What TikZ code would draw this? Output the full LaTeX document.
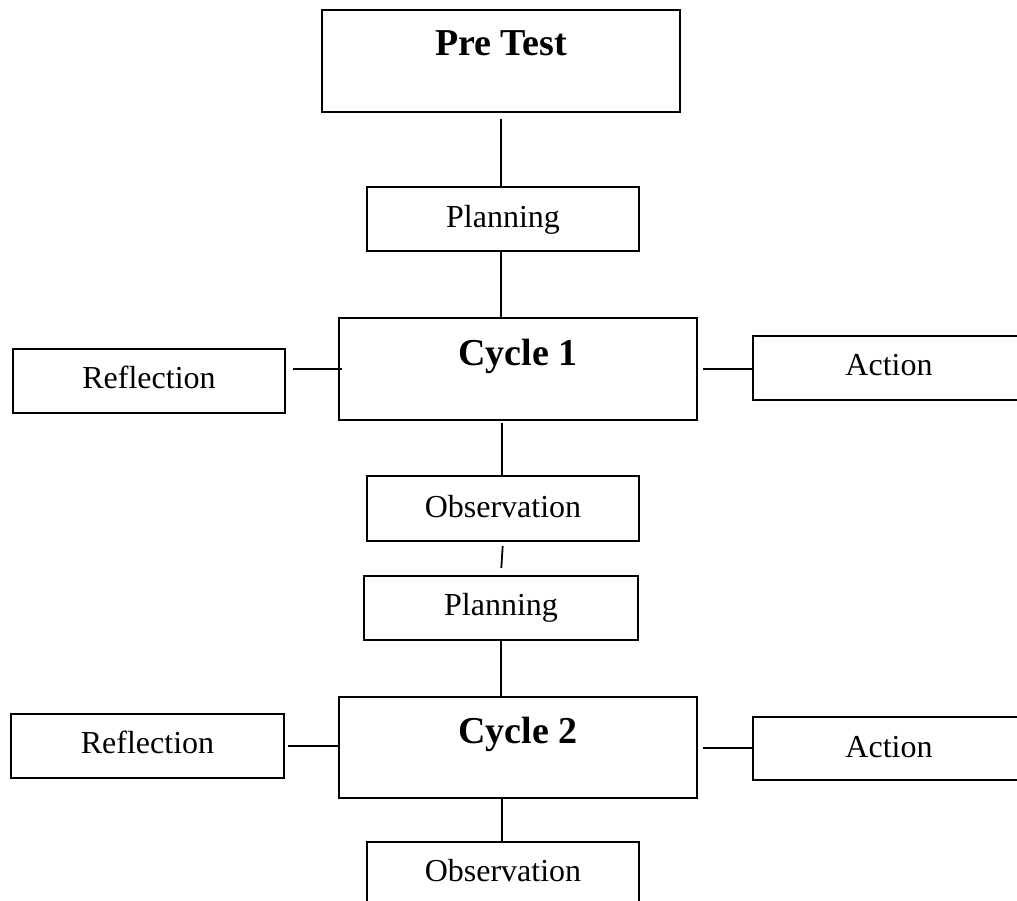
\documentclass[tikz,border=0pt]{standalone}
\usepackage{fontspec}
\setmainfont{Liberation Serif}
\begin{document}
\begin{tikzpicture}[x=1pt,y=-1pt,
  box/.style={draw=black, line width=1.8pt, rectangle, inner sep=0pt},
  lbl/.style={anchor=base, inner sep=0pt, font=\fontsize{32}{36}\selectfont},
  blbl/.style={anchor=base, inner sep=0pt, font=\fontsize{38}{40}\selectfont\bfseries},
  conn/.style={draw=black, line width=1.8pt}]
\useasboundingbox (0,0) rectangle (1017,901);
\clip (0,0) rectangle (1017,901);
% boxes
\node[box, minimum width=358pt, minimum height=102pt] (pre) at (501,61) {};
\node[box, minimum width=272pt, minimum height=64pt] (plan1) at (503,219) {};
\node[box, minimum width=358pt, minimum height=102pt] (cyc1) at (518,369) {};
\node[box, minimum width=272pt, minimum height=64pt] (refl1) at (149,381) {};
\node[box, minimum width=272pt, minimum height=64pt] (act1) at (889,368) {};
\node[box, minimum width=272pt, minimum height=65pt] (obs1) at (503,508.5) {};
\node[box, minimum width=274pt, minimum height=64pt] (plan2) at (501,608) {};
\node[box, minimum width=358pt, minimum height=101pt] (cyc2) at (518,747.5) {};
\node[box, minimum width=273pt, minimum height=64pt] (refl2) at (147.5,746) {};
\node[box, minimum width=272pt, minimum height=63pt] (act2) at (889,748.5) {};
\node[box, minimum width=272pt, minimum height=64pt] (obs2) at (503,874) {};
% texts
\node[blbl] (tpre) at (501,56) {Pre Test};
\node[lbl] (tplan1) at (503,228) {Planning};
\node[blbl] (tcyc1) at (518,365) {Cycle 1};
\node[lbl] (trefl1) at (149,388) {Reflection};
\node[lbl] (tact1) at (889,375) {Action};
\node[lbl] (tobs1) at (503,517) {Observation};
\node[lbl] (tplan2) at (501,615) {Planning};
\node[blbl] (tcyc2) at (518,743) {Cycle 2};
\node[lbl] (trefl2) at (147.5,753) {Reflection};
\node[lbl] (tact2) at (889,757) {Action};
\node[lbl] (tobs2) at (503,881) {Observation};
% connectors
\draw[conn] ([yshift=-6pt]pre.south) -- (pre.south |- plan1.north);
\draw[conn] (pre.south |- plan1.south) -- (pre.south |- cyc1.north);
\draw[conn] ([xshift=7pt]refl1.east |- cyc1.west) -- ([xshift=4pt]cyc1.west);
\draw[conn] ([xshift=5pt]cyc1.east) -- (act1.west |- cyc1.east);
\coordinate (c1b) at (502,423);
\draw[conn] (c1b) -- (c1b |- obs1.north);
\coordinate (s1) at (502.7,546);
\coordinate (s2) at (501.3,568);
\draw[conn] (s1) -- (s2);
\draw[conn] (pre.south |- plan2.south) -- (pre.south |- cyc2.north);
\draw[conn] ([xshift=3pt]refl2.east) -- (cyc2.west |- refl2.east);
\coordinate (a2y) at (0,748);
\draw[conn] ([xshift=5pt]cyc2.east |- a2y) -- (act2.west |- a2y);
\coordinate (c2b) at (502,798);
\draw[conn] (c2b) -- (c2b |- obs2.north);
\end{tikzpicture}
\end{document}
